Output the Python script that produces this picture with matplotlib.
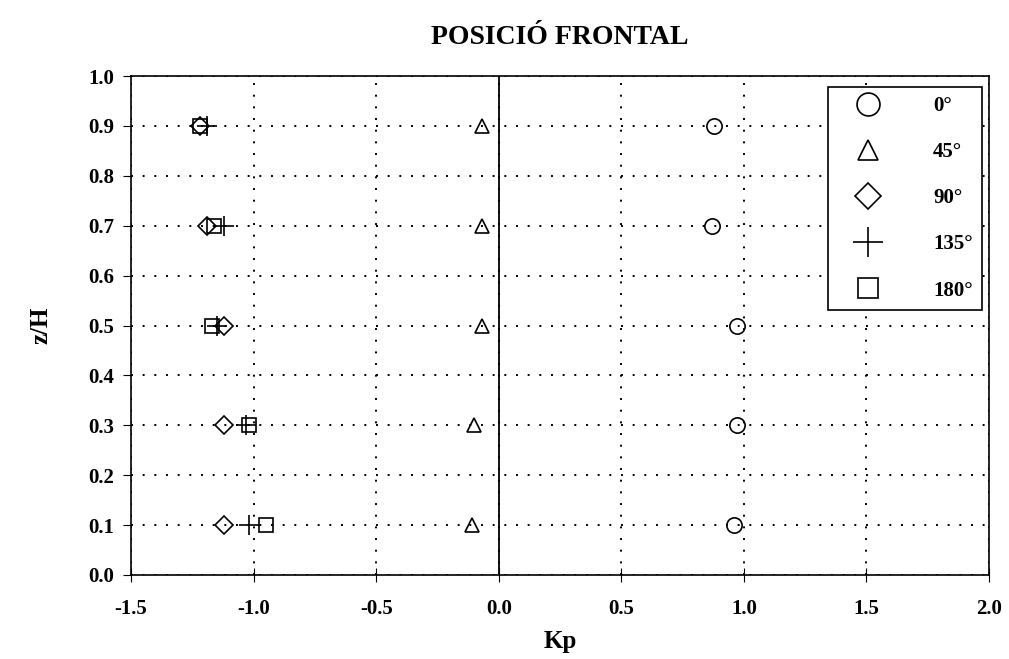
import matplotlib
matplotlib.use("Agg")
import matplotlib.pyplot as plt

# heights (z/H) and pressure coefficients for each wind angle
z_h = [0.9, 0.7, 0.5, 0.3, 0.1]
kp_0 = [0.88, 0.87, 0.97, 0.97, 0.96]
kp_45 = [-0.07, -0.07, -0.07, -0.10, -0.11]
kp_90 = [-1.22, -1.19, -1.12, -1.12, -1.12]
kp_135 = [-1.19, -1.12, -1.15, -1.03, -1.02]
kp_180 = [-1.22, -1.16, -1.17, -1.02, -0.95]

labels = ["0°", "45°", "90°", "135°", "180°"]
markers = ["o", "^", "D", "+", "s"]
sizes = [11, 10, 9, 14, 10]

x_ticks = [-1.5, -1.0, -0.5, 0.0, 0.5, 1.0, 1.5, 2.0]
y_ticks = [round(0.1 * i, 1) for i in range(11)]

plt.rcParams['font.family'] = ['Liberation Serif', 'DejaVu Serif']
plt.rcParams['font.weight'] = 'bold'

fig = plt.figure(figsize=(10.09, 6.59), dpi=100)
ax = fig.add_axes([131 / 1009, 1 - 575 / 659, 858 / 1009, 499 / 659])

series = [kp_0, kp_45, kp_90, kp_135, kp_180]
for kp, lab, m, s in zip(series, labels, markers, sizes):
    ax.plot(kp, z_h, linestyle='none', marker=m, markersize=s,
            markerfacecolor='none', markeredgecolor='black',
            markeredgewidth=1.2, color='black', label=lab, zorder=3)

ax.axvline(0, color='black', lw=1.3, zorder=2)

ax.set_xlim(-1.5, 2.0)
ax.set_ylim(0, 1.0)
ax.set_xticks(x_ticks)
ax.set_yticks(y_ticks)
ax.set_xticklabels([f"{v:.1f}" for v in x_ticks])
ax.set_yticklabels([f"{v:.1f}" for v in y_ticks])
ax.tick_params(axis='both', labelsize=15, color='black')
ax.tick_params(axis='x', direction='inout', length=10, pad=12)
ax.tick_params(axis='y', direction='out', length=6, pad=6)

ax.grid(True, linestyle=(0, (1, 5)), color='black', lw=1.4)
for sp in ax.spines.values():
    sp.set_linewidth(1.2)

ax.set_xlabel("Kp", fontsize=18, fontweight='bold', labelpad=8)
ax.set_ylabel("z/H", fontsize=18, fontweight='bold', labelpad=26)
fig.text(560 / 1009, 1 - 37 / 659, "POSICIÓ FRONTAL", ha='center', va='center',
         fontsize=20, fontweight='bold')

leg = ax.legend(loc='upper right', bbox_to_anchor=(0.992, 0.978), markerscale=1.5,
                fontsize=15, frameon=True, fancybox=False, edgecolor='black',
                framealpha=1, labelspacing=1.25, handletextpad=1.7,
                borderpad=0.45, handlelength=2.9, borderaxespad=0.0)
leg.get_frame().set_linewidth(1.2)

fig.savefig("out.png", dpi=100)
